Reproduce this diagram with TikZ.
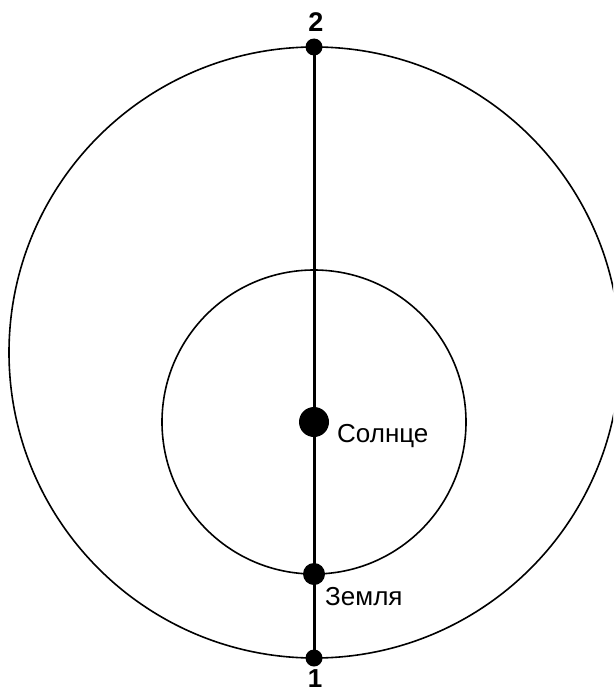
\documentclass[tikz,border=0pt]{standalone}
\usepackage{fontspec}
\setmainfont{Liberation Sans}
\begin{document}
\begin{tikzpicture}[x=1pt,y=-1pt,font=\fontsize{26}{31}\selectfont]
\useasboundingbox (0,0) rectangle (613,693);
\clip (0,0) rectangle (613,693);

\coordinate (O) at (314.5,352.5);
\coordinate (S) at (314,422);
\coordinate (E) at (314,574);
\coordinate (P1) at (314,658);
\coordinate (P2) at (314,47);

\draw[line width=1.6pt] (O) circle (305.5);
\draw[line width=1.6pt] (S) circle (152);
\draw[line width=3pt] (P2) -- (P1);

\fill (S) circle (15);
\fill (E) circle (11);
\fill (P1) circle (8.5);
\fill (P2) circle (8.5);

\node[anchor=base west,inner sep=0] (lS) at (337,442) {Солнце};
\node[anchor=base west,inner sep=0] (lE) at (325,605) {Земля};
\node[anchor=base,inner sep=0,font=\fontsize{27}{32}\selectfont\bfseries] (l2) at (316,32) {2};
\node[anchor=base,inner sep=0,font=\fontsize{26}{31}\selectfont\bfseries] (l1) at (315,687) {1};
\end{tikzpicture}
\end{document}
